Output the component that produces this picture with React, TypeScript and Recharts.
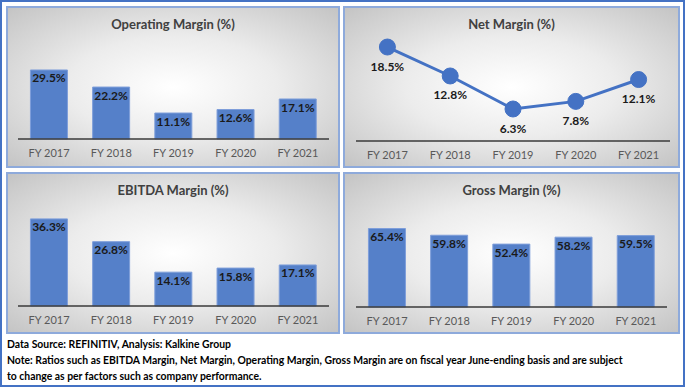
import React from 'react';
import { BarChart, Bar, LineChart, Line, XAxis, YAxis, LabelList } from 'recharts';

const years = ['FY 2017', 'FY 2018', 'FY 2019', 'FY 2020', 'FY 2021'];
const operatingMargin = [29.5, 22.2, 11.1, 12.6, 17.1];
const netMargin = [18.5, 12.8, 6.3, 7.8, 12.1];
const ebitdaMargin = [36.3, 26.8, 14.1, 15.8, 17.1];
const grossMargin = [65.4, 59.8, 52.4, 58.2, 59.5];

const titles = ['Operating Margin (%)', 'Net Margin (%)', 'EBITDA Margin (%)', 'Gross Margin (%)'];
const footerLines = [
  'Data Source: REFINITIV, Analysis: Kalkine Group',
  'Note: Ratios such as EBITDA Margin, Net Margin, Operating Margin, Gross Margin are on fiscal year June-ending basis and are subject',
  'to change as per factors such as company performance.',
];

const toData = (vals: number[]) => years.map((y, i) => ({ year: y, value: vals[i] }));

const FONT = 'Lato, "Open Sans", sans-serif';
const BLUE = '#4472C4';
const BAR_FILL = '#5580C9';

const fmt = (v: any) => `${Number(v).toFixed(1)}%`;

const Panel = ({ left, top, width, height, title, children }: any) => (
  <div
    style={{
      position: 'absolute',
      left,
      top,
      width,
      height,
      boxSizing: 'border-box',
      border: '2px solid #8EAADB',
      background: 'radial-gradient(ellipse farthest-corner at 50% 50%, #ffffff 0%, #ececec 45%, #c4c4c4 100%)',
    }}
  >
    <div
      style={{
        position: 'absolute',
        left: 0,
        top: 8,
        width: '100%',
        textAlign: 'center',
        fontFamily: FONT,
        fontWeight: 'bold',
        fontSize: 13,
        lineHeight: '16px',
        color: '#404040',
      }}
    >
      {title}
    </div>
    <div style={{ position: 'absolute', left: 0, top: 0 }}>{children}</div>
  </div>
);

const tickStyle = { fontFamily: FONT, fontSize: 11, fill: '#595959' };
const labelStyle = { fontFamily: FONT, fontSize: 12, fontWeight: 'bold', fill: '#1a1a1a' };

const BarPanel = ({ data, width, height, margin, max, xHeight }: any) => (
  <BarChart width={width} height={height} data={data} margin={margin} barCategoryGap="20%">
    <XAxis
      dataKey="year"
      tickLine={false}
      axisLine={{ stroke: '#3a3a3a', strokeWidth: 1.5 }}
      tick={tickStyle}
      tickMargin={4}
      height={xHeight}
      interval={0}
    />
    <YAxis hide domain={[0, max]} />
    <Bar dataKey="value" fill={BAR_FILL} stroke="#7E9EDA" strokeWidth={1} isAnimationActive={false}>
      <LabelList dataKey="value" position="insideTop" offset={4} formatter={fmt} style={labelStyle} />
    </Bar>
  </BarChart>
);

export default function App() {
  return (
    <div
      style={{
        position: 'absolute',
        left: 0,
        top: 0,
        width: 685,
        height: 387,
        boxSizing: 'border-box',
        border: `2px solid ${BLUE}`,
        background: '#ffffff',
      }}
    >
      <div style={{ position: 'absolute', left: -2, top: -2, width: 685, height: 387 }}>
        <Panel left={6} top={6} width={334} height={162} title={titles[0]}>
          <BarPanel
            data={toData(operatingMargin)}
            width={330}
            height={158}
            margin={{ top: 37.4, left: 10, right: 9, bottom: 0 }}
            max={40}
            xHeight={27}
          />
        </Panel>
        <Panel left={343} top={6} width={337} height={162} title={titles[1]}>
          <LineChart width={333} height={158} data={toData(netMargin)} margin={{ top: 31.4, left: 11, right: 8, bottom: 0 }}>
            <XAxis
              dataKey="year"
              tickLine={false}
              axisLine={{ stroke: '#3a3a3a', strokeWidth: 1.5 }}
              tick={tickStyle}
              tickMargin={4}
              height={25}
              interval={0}
              padding={{ left: 0, right: 0 }}
              scale="band"
            />
            <YAxis hide domain={[0, 20]} />
            <Line
              type="linear"
              dataKey="value"
              stroke={BLUE}
              strokeWidth={3}
              dot={{ r: 8, fill: BLUE, stroke: BLUE, strokeWidth: 1 }}
              isAnimationActive={false}
            >
              <LabelList dataKey="value" position="bottom" offset={15} formatter={fmt} style={labelStyle} />
            </Line>
          </LineChart>
        </Panel>
        <Panel left={6} top={172} width={334} height={162} title={titles[2]}>
          <BarPanel
            data={toData(ebitdaMargin)}
            width={330}
            height={158}
            margin={{ top: 36, left: 10, right: 9, bottom: 0 }}
            max={40}
            xHeight={26}
          />
        </Panel>
        <Panel left={343} top={172} width={337} height={162} title={titles[3]}>
          <BarPanel
            data={toData(grossMargin)}
            width={333}
            height={158}
            margin={{ top: 37, left: 11, right: 11, bottom: 0 }}
            max={80}
            xHeight={25}
          />
        </Panel>
        <div
          style={{
            position: 'absolute',
            left: 7,
            top: 336,
            fontFamily: FONT,
            fontWeight: 'bold',
            fontSize: 10.4,
            lineHeight: '16px',
            color: '#000000',
            whiteSpace: 'nowrap',
          }}
        >
          {footerLines.map((t, i) => (
            <div key={i}>{t}</div>
          ))}
        </div>
      </div>
    </div>
  );
}
